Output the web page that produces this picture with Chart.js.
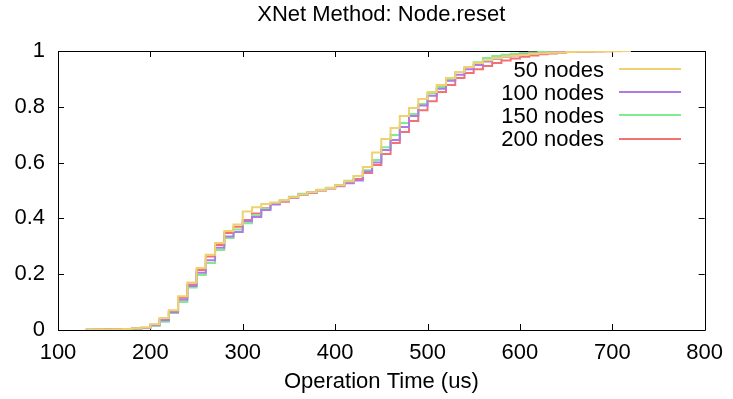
<!DOCTYPE html>
<html>
<head>
<meta charset="utf-8">
<script src="https://cdn.jsdelivr.net/npm/chart.js@4/dist/chart.umd.min.js"></script>
<style>
	body { margin: 0; background: #fff; }
</style>
</head>
<body>
<canvas id="myChart" width="733" height="399"></canvas>
<script>
const timeBins = [130, 140, 150, 160, 170, 180, 190,
	200, 210, 220, 230, 240, 250, 260, 270, 280, 290,
	300, 310, 320, 330, 340, 350, 360, 370, 380, 390,
	400, 410, 420, 430, 440, 450, 460, 470, 480, 490,
	500, 510, 520, 530, 540, 550, 560, 570, 580, 590,
	600, 610, 620, 630, 640, 650, 660, 670, 680, 690,
	700, 710, 720];

const nodes50 = [0.001, 0.002, 0.002, 0.003, 0.004, 0.006, 0.009,
	0.021, 0.043, 0.071, 0.121, 0.170, 0.222, 0.270, 0.312, 0.355, 0.378,
	0.425, 0.440, 0.452, 0.457, 0.464, 0.476, 0.486, 0.494, 0.502, 0.509,
	0.519, 0.533, 0.552, 0.584, 0.636, 0.685, 0.724, 0.767, 0.796, 0.828,
	0.853, 0.878, 0.903, 0.925, 0.943, 0.957, 0.967, 0.975, 0.980, 0.984,
	0.987, 0.990, 0.992, 0.994, 0.995, 0.996, 0.997, 0.998, 0.998, 0.999,
	0.999, 1.000, 1.000];

const nodes100 = [0.001, 0.001, 0.002, 0.003, 0.004, 0.005, 0.007,
	0.017, 0.035, 0.064, 0.108, 0.158, 0.205, 0.250, 0.295, 0.335, 0.351,
	0.390, 0.405, 0.430, 0.450, 0.462, 0.475, 0.485, 0.493, 0.501, 0.508,
	0.517, 0.526, 0.536, 0.568, 0.600, 0.645, 0.681, 0.728, 0.767, 0.805,
	0.840, 0.865, 0.893, 0.915, 0.935, 0.950, 0.962, 0.972, 0.979, 0.984,
	0.988, 0.991, 0.993, 0.995, 0.996, 0.997, 0.998, 0.999, 0.999, 1.000,
	1.000, 1.000, 1.000];

const nodes150 = [0.001, 0.001, 0.002, 0.002, 0.003, 0.004, 0.006,
	0.015, 0.030, 0.061, 0.100, 0.152, 0.197, 0.240, 0.287, 0.330, 0.360,
	0.383, 0.410, 0.435, 0.455, 0.465, 0.478, 0.488, 0.495, 0.503, 0.510,
	0.520, 0.535, 0.552, 0.573, 0.609, 0.655, 0.699, 0.742, 0.774, 0.810,
	0.849, 0.871, 0.900, 0.925, 0.943, 0.960, 0.975, 0.982, 0.987, 0.990,
	0.993, 0.995, 0.996, 0.997, 0.998, 0.998, 0.999, 0.999, 1.000, 1.000,
	1.000, 1.000, 1.000];

const nodes200 = [0.001, 0.002, 0.002, 0.003, 0.004, 0.005, 0.008,
	0.019, 0.040, 0.068, 0.116, 0.163, 0.215, 0.263, 0.305, 0.348, 0.370,
	0.394, 0.418, 0.436, 0.452, 0.460, 0.473, 0.484, 0.491, 0.500, 0.507,
	0.515, 0.527, 0.541, 0.563, 0.591, 0.631, 0.670, 0.710, 0.749, 0.788,
	0.820, 0.853, 0.878, 0.903, 0.921, 0.935, 0.946, 0.957, 0.966, 0.973,
	0.979, 0.984, 0.988, 0.991, 0.994, 0.996, 0.997, 0.998, 0.999, 0.999,
	1.000, 1.000, 1.000];

const seriesLabels = ["50 nodes", "100 nodes", "150 nodes", "200 nodes"];
const seriesColors = ["#efd26e", "#b07ae6", "#7fec8f", "#f27272"];
const xTicks = [100, 200, 300, 400, 500, 600, 700, 800];
const yTicks = [0, 0.2, 0.4, 0.6, 0.8, 1];

const FONT = "Liberation Sans, Arial, sans-serif";

const toPoints = (vals) => vals.map((v, i) => ({ x: timeBins[i], y: v }));

// gnuplot-like frame, inward ticks, title, axis label and key
const gnuFrame = {
	id: "gnuFrame",
	beforeDatasetsDraw(chart) {
		const { ctx, chartArea: a, scales } = chart;
		ctx.save();
		ctx.strokeStyle = "#000";
		ctx.lineWidth = 1;
		ctx.beginPath();
		ctx.rect(Math.round(a.left) + 0.5, Math.round(a.top) + 0.5,
			Math.round(a.right - a.left), Math.round(a.bottom - a.top));
		xTicks.forEach((t) => {
			const px = Math.round(scales.x.getPixelForValue(t)) + 0.5;
			ctx.moveTo(px, a.bottom);
			ctx.lineTo(px, a.bottom - 6);
			ctx.moveTo(px, a.top);
			ctx.lineTo(px, a.top + 6);
		});
		yTicks.forEach((t) => {
			const py = Math.round(scales.y.getPixelForValue(t)) + 0.5;
			ctx.moveTo(a.left, py);
			ctx.lineTo(a.left + 6, py);
			ctx.moveTo(a.right, py);
			ctx.lineTo(a.right - 6, py);
		});
		ctx.stroke();
		ctx.restore();
	},
	afterDraw(chart) {
		const { ctx, chartArea: a } = chart;
		const cx = (a.left + a.right) / 2;
		ctx.save();
		ctx.fillStyle = "#000";
		ctx.font = "22px " + FONT;
		ctx.textAlign = "center";
		ctx.textBaseline = "alphabetic";
		ctx.fillText("XNet Method: Node.reset", cx, 21);
		ctx.fillText("Operation Time (us)", cx, 388);

		ctx.textAlign = "right";
		chart.data.datasets.forEach((ds, i) => {
			const ly = 69 + i * 23.2;
			ctx.fillStyle = "#000";
			ctx.fillText(ds.label, 604, ly + 7.5);
			ctx.strokeStyle = ds.borderColor;
			ctx.lineWidth = 2;
			ctx.beginPath();
			ctx.moveTo(619, Math.round(ly));
			ctx.lineTo(681, Math.round(ly));
			ctx.stroke();
		});
		ctx.restore();
	}
};

const ctx = document.getElementById("myChart");
const chart = new Chart(ctx, {
	type: "line",
	data: {
		datasets: [nodes50, nodes100, nodes150, nodes200].map((vals, i) => ({
			label: seriesLabels[i],
			data: toPoints(vals),
			borderColor: seriesColors[i],
			borderWidth: 2,
			pointRadius: 0,
			stepped: "before",
			fill: false,
		})),
	},
	options: {
		responsive: false,
		animation: false,
		layout: { padding: { top: 51, right: 24, left: 0, bottom: 0 } },
		plugins: {
			legend: { display: false },
			tooltip: { enabled: false },
		},
		scales: {
			x: {
				type: "linear",
				min: 100,
				max: 800,
				afterFit: (s) => { s.height = 69; },
				afterBuildTicks: (s) => { s.ticks = xTicks.map((v) => ({ value: v })); },
				grid: { display: false, drawTicks: false },
				border: { display: false },
				ticks: {
					color: "#000",
					padding: 10,
					maxRotation: 0,
					font: { family: FONT, size: 22 },
				},
			},
			y: {
				min: 0,
				max: 1,
				afterFit: (s) => { s.width = 58; },
				afterBuildTicks: (s) => { s.ticks = yTicks.map((v) => ({ value: v })); },
				grid: { display: false, drawTicks: false },
				border: { display: false },
				ticks: {
					color: "#000",
					padding: 13,
					font: { family: FONT, size: 22 },
					callback: (v) => String(Number(v.toFixed(1))),
				},
			},
		},
	},
	plugins: [gnuFrame],
});
</script>
</body>
</html>
